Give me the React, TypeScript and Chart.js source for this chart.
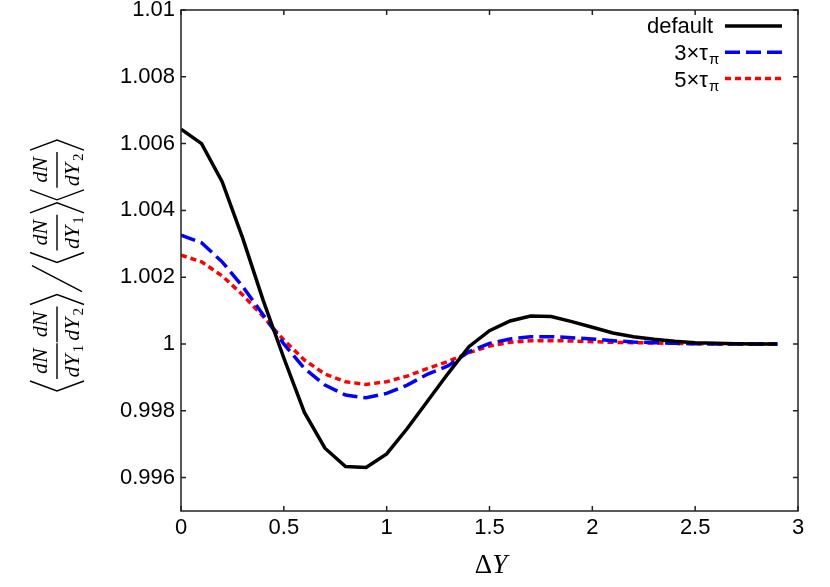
import React, { useEffect, useRef } from 'react';
import { Chart, registerables } from 'chart.js';

Chart.register(...registerables);

// rapidity gap values
const DELTA_Y = [0, 0.1, 0.2, 0.3, 0.4, 0.5, 0.6, 0.7, 0.8, 0.9, 1.0, 1.1, 1.2, 1.3, 1.4, 1.5, 1.6, 1.7, 1.8, 1.9, 2.0, 2.1, 2.2, 2.3, 2.4, 2.5, 2.6, 2.7, 2.8, 2.9];

const DEFAULT = [1.00643, 1.006, 1.00486, 1.00317, 1.0013, 0.99958, 0.99795, 0.99688, 0.99633, 0.9963, 0.99671, 0.99747, 0.9983, 0.99913, 0.99992, 1.0004, 1.00069, 1.00084, 1.00082, 1.00067, 1.0005, 1.00033, 1.00022, 1.00014, 1.00008, 1.00004, 1.00002, 1.00001, 1.0, 1.0];
const TAU3 = [1.00326, 1.00303, 1.00246, 1.00172, 1.00087, 1.0, 0.99927, 0.99877, 0.99847, 0.99839, 0.99852, 0.99877, 0.9991, 0.99935, 0.99977, 1.00002, 1.00015, 1.00022, 1.00022, 1.00019, 1.00015, 1.0001, 1.00006, 1.00004, 1.00002, 1.00001, 1.0, 1.0, 1.0, 1.0];
const TAU5 = [1.00266, 1.00246, 1.00204, 1.00147, 1.00082, 1.00012, 0.99952, 0.9991, 0.99887, 0.99879, 0.99887, 0.99904, 0.99927, 0.99948, 0.99974, 0.99994, 1.00005, 1.0001, 1.0001, 1.00009, 1.00007, 1.00005, 1.00004, 1.00003, 1.00002, 1.00001, 1.0, 1.0, 1.0, 1.0];

const X_TICKS = [0, 0.5, 1, 1.5, 2, 2.5, 3];
const Y_TICKS = [0.996, 0.998, 1, 1.002, 1.004, 1.006, 1.008, 1.01];

const SERIES = [
  { label: 'default', sub: '', values: DEFAULT, color: '#000000', dash: [] as number[] },
  { label: '3×τ', sub: 'π', values: TAU3, color: '#0000ff', dash: [15, 6] },
  { label: '5×τ', sub: 'π', values: TAU5, color: '#ff0000', dash: [6, 4] },
];

const TICK_FONT = { family: '"Liberation Sans", Arial, sans-serif', size: 22 };
const fmt = (v: number) => String(parseFloat(Number(v).toFixed(3)));

const framePlugin = {
  id: 'frame',
  afterDatasetsDraw(chart: any) {
    const { ctx, chartArea: a, scales } = chart;
    ctx.save();
    // box
    ctx.strokeStyle = '#222';
    ctx.lineWidth = 1.5;
    ctx.setLineDash([]);
    ctx.strokeRect(a.left, a.top, a.right - a.left, a.bottom - a.top);
    // inward ticks on all four sides
    ctx.beginPath();
    X_TICKS.forEach((t) => {
      const px = scales.x.getPixelForValue(t);
      ctx.moveTo(px, a.bottom);
      ctx.lineTo(px, a.bottom - 5);
      ctx.moveTo(px, a.top);
      ctx.lineTo(px, a.top + 5);
    });
    Y_TICKS.forEach((t) => {
      const py = scales.y.getPixelForValue(t);
      ctx.moveTo(a.left, py);
      ctx.lineTo(a.left + 5, py);
      ctx.moveTo(a.right, py);
      ctx.lineTo(a.right - 5, py);
    });
    ctx.stroke();

    // legend
    ctx.textBaseline = 'alphabetic';
    SERIES.forEach((s, i) => {
      const base = 33 + i * 27;
      const ly = 26 + i * 26.3;
      ctx.fillStyle = '#000';
      ctx.font = '22px "Liberation Sans", Arial, sans-serif';
      ctx.textAlign = 'right';
      if (s.sub) {
        ctx.fillText(s.label, 708, base);
        ctx.font = '15px "Liberation Sans", Arial, sans-serif';
        ctx.textAlign = 'left';
        ctx.fillText(s.sub, 709, base + 4);
      } else {
        ctx.fillText(s.label, 713, base);
      }
      ctx.strokeStyle = s.color;
      ctx.lineWidth = 3.5;
      ctx.setLineDash(s.dash);
      ctx.beginPath();
      ctx.moveTo(725, ly);
      ctx.lineTo(782, ly);
      ctx.stroke();
    });
    ctx.setLineDash([]);

    // x title: upright delta, italic Y
    ctx.fillStyle = '#000';
    ctx.textAlign = 'left';
    const deltaFont = '27px "Liberation Serif", "DejaVu Serif", serif';
    const yFont = 'italic 27px "Liberation Serif", "DejaVu Serif", serif';
    ctx.font = deltaFont;
    const wDelta = ctx.measureText('Δ').width;
    ctx.font = yFont;
    const wY = ctx.measureText('Y').width;
    const x0 = 491 - (wDelta + wY) / 2;
    ctx.font = deltaFont;
    ctx.fillText('Δ', x0, 573);
    ctx.font = yFont;
    ctx.fillText('Y', x0 + wDelta, 573);

    // y title: <dN/dY1 dN/dY2> / <dN/dY1><dN/dY2>
    ctx.translate(57, 392);
    ctx.rotate(-Math.PI / 2);
    ctx.strokeStyle = '#000';
    ctx.lineWidth = 1.4;
    const mainFont = 'italic 22px "Liberation Serif", "DejaVu Serif", serif';
    const subFont = '15px "Liberation Serif", "DejaVu Serif", serif';
    let u = 0;
    const open = () => {
      ctx.beginPath();
      ctx.moveTo(u + 11, -27);
      ctx.lineTo(u + 1, 0);
      ctx.lineTo(u + 11, 27);
      ctx.stroke();
      u += 13;
    };
    const close = () => {
      ctx.beginPath();
      ctx.moveTo(u + 1, -27);
      ctx.lineTo(u + 11, 0);
      ctx.lineTo(u + 1, 27);
      ctx.stroke();
      u += 13;
    };
    const frac = (sub: string) => {
      ctx.font = mainFont;
      const wn = ctx.measureText('dN').width;
      const wd = ctx.measureText('dY').width;
      ctx.font = subFont;
      const ws = ctx.measureText(sub).width;
      const w = Math.max(wn, wd + ws + 2) + 3;
      ctx.beginPath();
      ctx.moveTo(u, 0);
      ctx.lineTo(u + w, 0);
      ctx.stroke();
      ctx.textAlign = 'left';
      ctx.font = mainFont;
      ctx.fillText('dN', u + (w - wn) / 2, -10);
      const dx = u + (w - wd - ws - 2) / 2;
      ctx.fillText('dY', dx, 22);
      ctx.font = subFont;
      ctx.fillText(sub, dx + wd + 2, 26);
      u += w + 1;
    };
    open();
    frac('1');
    frac('2');
    close();
    ctx.beginPath();
    ctx.moveTo(u + 1, 25);
    ctx.lineTo(u + 27, -25);
    ctx.stroke();
    u += 29;
    open();
    frac('1');
    close();
    open();
    frac('2');
    close();
    ctx.restore();
  },
};

const CorrelationChart: React.FC = () => {
  const canvasRef = useRef<HTMLCanvasElement>(null);
  const chartInstance = useRef<Chart | null>(null);

  useEffect(() => {
    if (!canvasRef.current) return;
    if (chartInstance.current) chartInstance.current.destroy();

    chartInstance.current = new Chart(canvasRef.current, {
      type: 'line',
      data: {
        datasets: SERIES.map((s) => ({
          label: s.label,
          data: DELTA_Y.map((x, i) => ({ x, y: s.values[i] })),
          borderColor: s.color,
          borderWidth: 3.5,
          borderDash: s.dash,
          pointRadius: 0,
          tension: 0,
          fill: false,
        })),
      },
      options: {
        animation: false,
        responsive: true,
        maintainAspectRatio: false,
        layout: { padding: { left: 0, right: 32, top: 10, bottom: 0 } },
        plugins: { legend: { display: false }, tooltip: { enabled: false } },
        scales: {
          x: {
            type: 'linear',
            min: 0,
            max: 3,
            grid: { display: false, drawTicks: false },
            border: { display: false },
            afterBuildTicks: (scale: any) => {
              scale.ticks = X_TICKS.map((value) => ({ value }));
            },
            afterFit: (scale: any) => {
              scale.height = 76;
              scale.paddingLeft = 0;
              scale.paddingRight = 0;
            },
            ticks: {
              color: '#000',
              font: TICK_FONT,
              padding: 4,
              maxRotation: 0,
              callback: (v: any) => fmt(v),
            },
          },
          y: {
            type: 'linear',
            min: 0.995,
            max: 1.01,
            grid: { display: false, drawTicks: false },
            border: { display: false },
            afterBuildTicks: (scale: any) => {
              scale.ticks = Y_TICKS.map((value) => ({ value }));
            },
            afterFit: (scale: any) => {
              scale.width = 181;
              scale.paddingTop = 0;
              scale.paddingBottom = 0;
            },
            ticks: {
              color: '#000',
              font: TICK_FONT,
              padding: 6,
              callback: (v: any) => fmt(v),
            },
          },
        },
      },
      plugins: [framePlugin],
    });

    return () => {
      if (chartInstance.current) {
        chartInstance.current.destroy();
        chartInstance.current = null;
      }
    };
  }, []);

  return (
    <div style={{ position: 'absolute', left: 0, top: 0, width: 830, height: 587, background: '#fff' }}>
      <canvas ref={canvasRef}></canvas>
    </div>
  );
};

export default function App() {
  return <CorrelationChart />;
}
